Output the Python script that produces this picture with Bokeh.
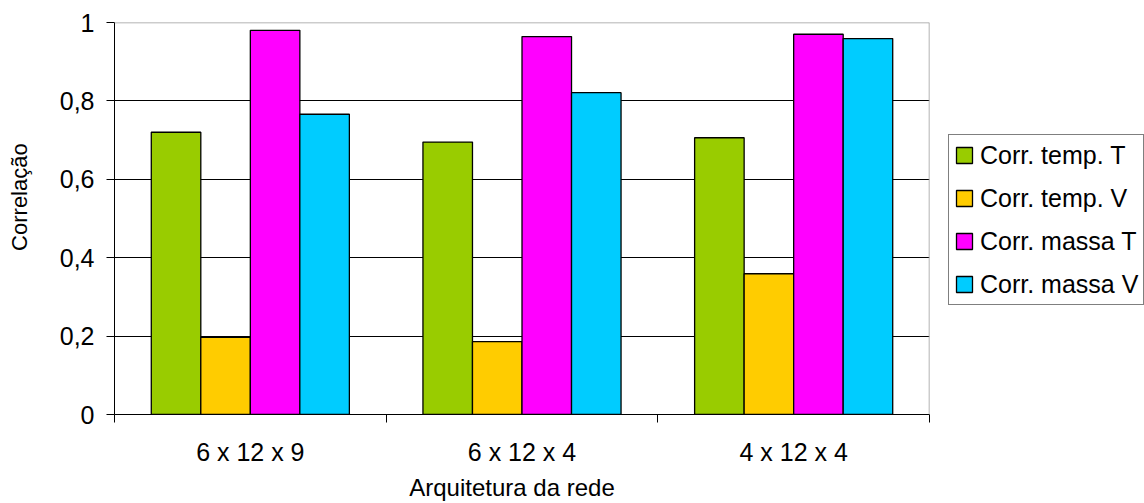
from bokeh.embed import file_html
from bokeh.layouts import row
from bokeh.models import (ColumnDataSource, CustomJSTickFormatter, FixedTicker, Grid,
                          Legend, LegendItem, LinearAxis, Range1d, Span)
from bokeh.plotting import figure
from bokeh.resources import INLINE
from bokeh.transform import dodge

# Network architectures compared
architectures = ["6 x 12 x 9", "6 x 12 x 4", "4 x 12 x 4"]

# Correlation of each output with the target, per architecture
corr_temp_T = [0.720, 0.695, 0.706]
corr_temp_V = [0.197, 0.186, 0.359]
corr_massa_T = [0.980, 0.964, 0.970]
corr_massa_V = [0.766, 0.821, 0.959]

series_labels = ["Corr. temp. T", "Corr. temp. V", "Corr. massa T", "Corr. massa V"]
series_keys = ["temp_T", "temp_V", "massa_T", "massa_V"]
series_colors = ["#99CC00", "#FFCC00", "#FF00FF", "#00CCFF"]

y_tick_values = [0, 0.2, 0.4, 0.6, 0.8, 1]

FONT = "Liberation Sans"
NBSP = "\u00a0"

source = ColumnDataSource(data=dict(
    x=[i + 0.5 for i in range(len(architectures))],
    temp_T=corr_temp_T,
    temp_V=corr_temp_V,
    massa_T=corr_massa_T,
    massa_V=corr_massa_V,
))

bar_w = 0.1823
offsets = [-1.5 * bar_w, -0.5 * bar_w, 0.5 * bar_w, 1.5 * bar_w]

# ---- main chart -------------------------------------------------------------
p = figure(width=931, height=503, output_backend="svg", toolbar_location=None,
           x_range=Range1d(0, len(architectures)), y_range=Range1d(0, 1),
           x_axis_type=None, y_axis_type=None,
           min_border_left=114, min_border_right=2,
           min_border_top=22, min_border_bottom=87)
p.outline_line_color = None
p.background_fill_color = "white"
p.border_fill_color = "white"

# y axis with comma decimals
y_ticker = FixedTicker(ticks=y_tick_values)
y_axis = LinearAxis(ticker=y_ticker, axis_label=NBSP * 7 + "Correlação")
y_axis.formatter = CustomJSTickFormatter(
    code="return String(Math.round(tick * 10) / 10).replace('.', ',');")
y_axis.axis_line_color = "black"
y_axis.major_tick_line_color = "black"
y_axis.major_tick_out = 8
y_axis.major_tick_in = 0
y_axis.minor_tick_line_color = None
y_axis.major_label_text_font = FONT
y_axis.major_label_text_font_size = "25px"
y_axis.major_label_text_color = "black"
y_axis.major_label_standoff = 12
y_axis.axis_label_text_font = FONT
y_axis.axis_label_text_font_size = "22px"
y_axis.axis_label_text_font_style = "normal"
y_axis.axis_label_text_color = "black"
y_axis.axis_label_standoff = 25
p.add_layout(y_axis, "left")

# x axis: labels centred on each group, ticks on the group boundaries
x_ticker = FixedTicker(ticks=[i + 0.5 for i in range(len(architectures))],
                       minor_ticks=list(range(len(architectures) + 1)))
x_axis = LinearAxis(ticker=x_ticker, axis_label="Arquitetura da rede" + NBSP * 3)
x_axis.formatter = CustomJSTickFormatter(args=dict(names=architectures),
                                         code="return names[Math.floor(tick)];")
x_axis.axis_line_color = "black"
x_axis.major_tick_line_color = None
x_axis.major_tick_out = 8
x_axis.major_tick_in = 0
x_axis.minor_tick_line_color = "black"
x_axis.minor_tick_out = 8
x_axis.minor_tick_in = 0
x_axis.major_label_text_font = FONT
x_axis.major_label_text_font_size = "25px"
x_axis.major_label_text_color = "black"
x_axis.major_label_standoff = 15
x_axis.axis_label_text_font = FONT
x_axis.axis_label_text_font_size = "24px"
x_axis.axis_label_text_font_style = "normal"
x_axis.axis_label_text_color = "black"
x_axis.axis_label_standoff = 5
p.add_layout(x_axis, "below")

p.add_layout(Grid(dimension=1, ticker=FixedTicker(ticks=y_tick_values[1:-1]),
                  grid_line_color="black", grid_line_width=1))

# frame edges on top and right
p.add_layout(Span(location=1, dimension="width", line_color="#9a9a9a", line_width=1.5))
p.add_layout(Span(location=len(architectures), dimension="height",
                  line_color="#9a9a9a", line_width=1.5))

for key, color, off in zip(series_keys, series_colors, offsets):
    p.vbar(x=dodge("x", off), top=key, width=bar_w, bottom=0, source=source,
           fill_color=color, line_color="black", line_width=1.3)

# ---- legend panel -------------------------------------------------------------
# Hidden copies of the bar series; only their legend entries are shown here.
lp = figure(width=1144 - 931, height=503, output_backend="svg", toolbar_location=None,
            x_range=Range1d(0, len(architectures)), y_range=Range1d(0, 1),
            x_axis_type=None, y_axis_type=None,
            min_border_left=0, min_border_right=0, min_border_top=0, min_border_bottom=0)
lp.outline_line_color = None
lp.background_fill_color = "white"
lp.border_fill_color = "white"

items = []
for key, label, color, off in zip(series_keys, series_labels, series_colors, offsets):
    r = lp.vbar(x=dodge("x", off), top=key, width=bar_w, bottom=0, source=source,
                fill_color=color, line_color="black", line_width=1.3, visible=False)
    items.append(LegendItem(label=label, renderers=[r]))

legend = Legend(items=items, location=(17, 109), orientation="vertical",
                label_text_font=FONT, label_text_font_size="25px", label_text_color="black",
                glyph_width=20, glyph_height=20, label_standoff=6,
                label_height=30, spacing=13, padding=5, margin=0,
                title_text_font_size="0px", title_standoff=0,
                border_line_color="black", border_line_width=1,
                background_fill_color="white", background_fill_alpha=1.0)
lp.add_layout(legend, "center")

layout = row(p, lp, spacing=0)

open("out.html", "w").write(file_html(layout, INLINE))
